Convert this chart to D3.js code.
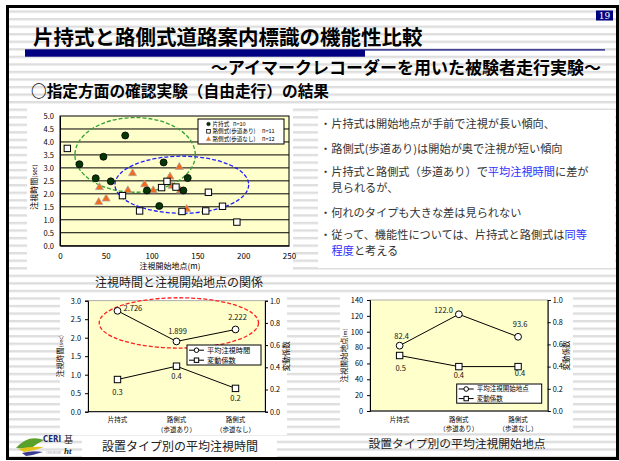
<!DOCTYPE html>
<html><head><meta charset="utf-8">
<script src="https://cdn.jsdelivr.net/npm/d3@7"></script>
<style>
body{margin:0;background:#fff;}
svg{display:block;}
text{font-family:"Noto Sans CJK JP","Noto Sans",sans-serif;}
</style>
</head><body>
<svg id="c" width="619" height="461"></svg>
<script>
// ---------------- DATA ----------------
const scatterXTicks = [0, 50, 100, 150, 200, 250];
const scatterYTicks = [0, 0.5, 1.0, 1.5, 2.0, 2.5, 3.0, 3.5, 4.0, 4.5, 5.0];
const kataX  = [21.2, 39.0, 47.4, 55.5, 71.2, 94.9, 108.4, 113.1, 134.7, 139.4];
const kataY  = [3.14, 2.60, 3.43, 2.48, 4.25, 2.13, 1.53, 3.21, 2.13, 2.61];
const ariX   = [8.0, 68.2, 86.9, 110.9, 116.8, 126.6, 133.2, 159.1, 162.0, 177.4, 193.1];
const ariY   = [3.75, 1.93, 1.34, 2.24, 2.48, 2.26, 1.32, 1.34, 2.06, 1.52, 0.91];
const nashiX = [43.1, 42.3, 50.4, 74.1, 79.2, 92.3, 101.8, 120.1, 122.3, 130.3, 131.4, 138.3];
const nashiY = [2.25, 1.68, 1.81, 2.13, 2.79, 2.36, 2.13, 2.66, 2.30, 3.03, 2.12, 1.41];
const seriesNames = ["片持式", "路側式(歩道あり)", "路側式(歩道なし)"];
const seriesN = ["n=10", "n=11", "n=12"];
// annotation ellipses (data units: cx, cy, rx, ry)
const groupEllipses = [[82, 3.5, 65.7, 1.44], [133, 2.35, 73, 1.1]];

const categories = [["片持式"], ["路側式", "（歩道あり）"], ["路側式", "（歩道なし）"]];
const meanTime = [2.726, 1.899, 2.222];
const meanTimeLabels = ["2.726", "1.899", "2.222"];
const cvTime = [0.29, 0.41, 0.21];
const cvTimeLabels = ["0.3", "0.4", "0.2"];
const meanStart = [82.4, 122.0, 93.6];
const meanStartLabels = ["82.4", "122.0", "93.6"];
const cvStart = [0.5, 0.4, 0.4];
const cvStartLabels = ["0.5", "0.4", "0.4"];
const timeTicks = [0, 0.5, 1.0, 1.5, 2.0, 2.5, 3.0];
const startTicks = [0, 20, 40, 60, 80, 100, 120, 140];
const cvTicks = [0, 0.2, 0.4, 0.6, 0.8, 1.0];
// annotation ellipse on time chart (category index, value, rx index, ry value)
const timeEllipse = [1.04, 2.40, 1.35, 0.68];

// ---------------- DRAW ----------------
const svg = d3.select("#c");
const defs = svg.append("defs");
const pat = defs.append("pattern").attr("id", "stripes").attr("patternUnits", "userSpaceOnUse")
  .attr("x", 0).attr("y", 10.4).attr("width", 10).attr("height", 7.55);
pat.append("rect").attr("width", 10).attr("height", 7.55).attr("fill", "#fff");
pat.append("rect").attr("width", 10).attr("height", 2.4).attr("fill", "#dedede");

svg.append("rect").attr("width", 619).attr("height", 461).attr("fill", "#fff");
svg.append("rect").attr("x", 7.5).attr("y", 6.5).attr("width", 610).attr("height", 452)
  .attr("fill", "url(#stripes)");

// header
svg.append("rect").attr("x", 596).attr("y", 10.5).attr("width", 17).attr("height", 10).attr("fill", "#000080");
svg.append("text").attr("x", 604.5).attr("y", 19).attr("text-anchor", "middle")
  .attr("fill", "#fff").style("font-family", "'DejaVu Serif','Liberation Serif',serif").style("font-size", "9px").text("19");
svg.append("text").attr("x", 33).attr("y", 44.5).attr("fill", "#000")
  .style("font-size", "20.5px").style("font-weight", "bold").text("片持式と路側式道路案内標識の機能性比較");
svg.append("rect").attr("x", 25).attr("y", 49.3).attr("width", 340).attr("height", 7.4).attr("fill", "#000080");
svg.append("rect").attr("x", 365).attr("y", 49.3).attr("width", 240).attr("height", 1.2).attr("fill", "#000080");
svg.append("text").attr("x", 601).attr("y", 74).attr("text-anchor", "end").attr("fill", "#000")
  .style("font-size", "17px").style("font-weight", "bold").text("～アイマークレコーダーを用いた被験者走行実験～");
svg.append("text").attr("x", 31).attr("y", 97).attr("fill", "#000")
  .style("font-size", "15.7px").style("font-weight", "bold").text("○指定方面の確認実験（自由走行）の結果");

// white panels
[[27, 108, 266, 165], [318, 110, 297, 158], [60, 293, 227, 142], [340, 293, 233, 140]].forEach(r => {
  svg.append("rect").attr("x", r[0]).attr("y", r[1]).attr("width", r[2]).attr("height", r[3]).attr("fill", "#fff");
});

// ---------- scatter ----------
const sx = d3.scaleLinear().domain([0, 250]).range([60, 289]);
const sy = d3.scaleLinear().domain([0, 5]).range([245.7, 116]);
const sg = svg.append("g");
sg.append("rect").attr("x", sx(0)).attr("y", sy(5)).attr("width", sx(250) - sx(0)).attr("height", sy(0) - sy(5))
  .attr("fill", "#FFFFCC").attr("stroke", "#000").attr("stroke-width", 1);
sg.selectAll("line.g").data(scatterYTicks.filter(d => d > 0 && d < 5)).join("line")
  .attr("x1", sx(0)).attr("x2", sx(250)).attr("y1", d => sy(d)).attr("y2", d => sy(d))
  .attr("stroke", "#000").attr("stroke-width", 1);
sg.append("g").attr("transform", `translate(0,${sy(0)})`)
  .call(d3.axisBottom(sx).tickValues(scatterXTicks).tickSize(0).tickPadding(8).tickFormat(d3.format("d")))
  .call(g => { g.select(".domain").attr("stroke", "#000"); g.selectAll("text").style("font-size", "8px").attr("fill", "#000"); });
sg.append("g").attr("transform", `translate(${sx(0)},0)`)
  .call(d3.axisLeft(sy).tickValues(scatterYTicks).tickSize(0).tickPadding(6).tickFormat(d3.format(".1f")))
  .call(g => { g.select(".domain").attr("stroke", "#000"); g.selectAll("text").style("font-size", "7.5px").attr("fill", "#000"); });
sg.append("text").attr("x", 170).attr("y", 269).attr("text-anchor", "middle").style("font-size", "8px").text("注視開始地点(m)");
const yt = sg.append("text").attr("transform", "translate(37,187) rotate(-90)").attr("text-anchor", "middle").style("font-size", "8px");
yt.append("tspan").text("注視時間");
yt.append("tspan").style("font-size", "6px").text("(sec)");

const ellColors = ["#33A033", "#1F1FFF"];
groupEllipses.forEach((e, i) => {
  sg.append("ellipse").attr("cx", sx(e[0])).attr("cy", sy(e[1]))
    .attr("rx", sx(e[2]) - sx(0)).attr("ry", sy(0) - sy(e[3]))
    .attr("fill", "none").attr("stroke", ellColors[i]).attr("stroke-width", 1.3).attr("stroke-dasharray", "4,2");
});

const kata = kataX.map((x, i) => [x, kataY[i]]);
const ari = ariX.map((x, i) => [x, ariY[i]]);
const nashi = nashiX.map((x, i) => [x, nashiY[i]]);
const tri = d3.symbol().type(d3.symbolTriangle).size(28);
sg.selectAll("path.t").data(nashi).join("path").attr("class", "t")
  .attr("transform", d => `translate(${sx(d[0])},${sy(d[1])})`).attr("d", tri)
  .attr("fill", "#F26B1D").attr("stroke", "#A8A8A8").attr("stroke-width", 0.7);
sg.selectAll("rect.s").data(ari).join("rect").attr("class", "s")
  .attr("x", d => sx(d[0]) - 3.2).attr("y", d => sy(d[1]) - 3.2).attr("width", 6.4).attr("height", 6.4)
  .attr("fill", "#fff").attr("stroke", "#000").attr("stroke-width", 1);
sg.selectAll("circle.k").data(kata).join("circle").attr("class", "k")
  .attr("cx", d => sx(d[0])).attr("cy", d => sy(d[1])).attr("r", 3.5)
  .attr("fill", "#063806").attr("stroke", "#000").attr("stroke-width", 0.8);

// scatter legend
const lg = sg.append("g");
lg.append("rect").attr("x", 198).attr("y", 119).attr("width", 86).attr("height", 25)
  .attr("fill", "#fff").attr("stroke", "#000").attr("stroke-width", 1);
const lgY = [124, 131.3, 139.3];
const nX = [233, 262, 262];
seriesNames.forEach((name, i) => {
  const y = lgY[i];
  if (i === 0) lg.append("circle").attr("cx", 208.5).attr("cy", y).attr("r", 1.8).attr("fill", "#063806").attr("stroke", "#000").attr("stroke-width", 0.5);
  if (i === 1) lg.append("rect").attr("x", 206.7).attr("y", y - 1.8).attr("width", 3.6).attr("height", 3.6).attr("fill", "#fff").attr("stroke", "#000").attr("stroke-width", 0.8);
  if (i === 2) lg.append("path").attr("transform", `translate(208.5,${y})`).attr("d", d3.symbol().type(d3.symbolTriangle).size(10)).attr("fill", "#F26B1D").attr("stroke", "#A8A8A8").attr("stroke-width", 0.4);
  lg.append("text").attr("x", 212.5).attr("y", y + 2).style("font-size", "5.6px").text(name);
  lg.append("text").attr("x", nX[i]).attr("y", y + 2).style("font-size", "5.6px").text(seriesN[i]);
});
svg.append("text").attr("x", 179).attr("y", 287).attr("text-anchor", "middle").style("font-size", "12px").attr("fill", "#222").text("注視時間と注視開始地点の関係");

// ---------- bullets ----------
const bullets = [
  {y: 128, lines: [[["・片持式は開始地点が手前で注視が長い傾向、", 0]]]},
  {y: 152.5, lines: [[["・路側式(歩道あり)は開始が奥で注視が短い傾向", 0]]]},
  {y: 176, lines: [[["・片持式と路側式（歩道あり）で", 0], ["平均注視時間", 1], ["に差が", 0]], [["見られるが、", 0]]]},
  {y: 216.5, lines: [[["・何れのタイプも大きな差は見られない", 0]]]},
  {y: 239, lines: [[["・従って、機能性については、片持式と路側式は", 0], ["同等", 1]], [["程度", 1], ["と考える", 0]]]}
];
bullets.forEach(b => {
  b.lines.forEach((ln, li) => {
    const t = svg.append("text").attr("x", li ? 331.5 : 320).attr("y", b.y + li * 16.4).style("font-size", "11.2px");
    ln.forEach(p => t.append("tspan").attr("fill", p[1] ? "#2F2FFF" : "#333").text(p[0]));
  });
});

// ---------- line charts ----------
function lineChart(o) {
  const g = svg.append("g");
  const x = d3.scaleBand().domain(d3.range(categories.length)).range([o.x0, o.x1]);
  const xc = i => x(i) + x.bandwidth() / 2;
  const yl = d3.scaleLinear().domain([0, o.lmax]).range([o.y1, o.y0]);
  const yr = d3.scaleLinear().domain([0, 1]).range([o.y1, o.y0]);
  g.append("rect").attr("x", o.x0).attr("y", o.y0).attr("width", o.x1 - o.x0).attr("height", o.y1 - o.y0)
    .attr("fill", "#FFFFCC").attr("stroke", "#9a9a9a").attr("stroke-width", 0.8);
  g.append("g").attr("transform", `translate(${o.x0},0)`)
    .call(d3.axisLeft(yl).tickValues(o.lticks).tickSize(3).tickPadding(4).tickFormat(o.lfmt))
    .call(a => { a.select(".domain").attr("stroke", "#000"); a.selectAll("line").attr("stroke", "#000"); a.selectAll("text").style("font-size", "7.3px").attr("fill", "#000"); });
  g.append("g").attr("transform", `translate(${o.x1},0)`)
    .call(d3.axisRight(yr).tickValues(cvTicks).tickSize(3).tickPadding(2).tickFormat(d3.format(".1f")))
    .call(a => { a.select(".domain").attr("stroke", "#000"); a.selectAll("line").attr("stroke", "#000"); a.selectAll("text").style("font-size", "7.3px").attr("fill", "#000"); });
  g.append("line").attr("x1", o.x0).attr("x2", o.x1).attr("y1", o.y1).attr("y2", o.y1).attr("stroke", "#000");
  categories.forEach((c, i) => {
    c.forEach((s, j) => g.append("text").attr("x", xc(i)).attr("y", o.y1 + 10.5 + j * 9.6).attr("text-anchor", "middle").style("font-size", "6.5px").text(s));
  });
  const lt = g.append("text").attr("transform", `translate(${o.ltx},${(o.y0 + o.y1) / 2}) rotate(-90)`).attr("text-anchor", "middle").style("font-size", "7.5px");
  lt.append("tspan").text(o.ltitle);
  lt.append("tspan").style("font-size", "5.5px").text(o.lunit);
  g.append("text").attr("transform", `translate(${o.rtx},${(o.y0 + o.y1) / 2}) rotate(-90)`).attr("text-anchor", "middle").style("font-size", "7.5px").text("変動係数");
  if (o.ell) {
    g.append("ellipse").attr("cx", xc(0) + o.ell[0] * (xc(1) - xc(0))).attr("cy", yl(o.ell[1]))
      .attr("rx", o.ell[2] * (xc(1) - xc(0))).attr("ry", yl(0) - yl(o.ell[3]))
      .attr("fill", "none").attr("stroke", "#FF2020").attr("stroke-width", 1.3).attr("stroke-dasharray", "4,2");
  }
  const line = d3.line().x((d, i) => xc(i));
  g.append("path").attr("d", line.y(d => yl(d))(o.mean)).attr("fill", "none").attr("stroke", "#000").attr("stroke-width", 1);
  g.append("path").attr("d", line.y(d => yr(d))(o.cv)).attr("fill", "none").attr("stroke", "#000").attr("stroke-width", 1);
  o.mean.forEach((v, i) => g.append("circle").attr("cx", xc(i)).attr("cy", yl(v)).attr("r", 3.4).attr("fill", "#fff").attr("stroke", "#000").attr("stroke-width", 1));
  o.cv.forEach((v, i) => g.append("rect").attr("x", xc(i) - 3.2).attr("y", yr(v) - 3.2).attr("width", 6.4).attr("height", 6.4).attr("fill", "#fff").attr("stroke", "#000").attr("stroke-width", 1));
  o.meanLabels.forEach((s, i) => {
    const off = o.meanOff[i];
    g.append("text").attr("x", xc(i) + off[0]).attr("y", yl(o.mean[i]) + off[1]).attr("text-anchor", off[2]).style("font-size", "7.5px").attr("fill", "#111").text(s);
  });
  o.cvLabels.forEach((s, i) => {
    const off = o.cvOff[i];
    g.append("text").attr("x", xc(i) + off[0]).attr("y", yr(o.cv[i]) + off[1]).attr("text-anchor", "middle").style("font-size", "7.5px").attr("fill", "#111").text(s);
  });
  // legend
  const L = o.leg;
  g.append("rect").attr("x", L[0]).attr("y", L[1]).attr("width", L[2]).attr("height", L[3]).attr("fill", "#fff").attr("stroke", "#000").attr("stroke-width", 1);
  const rows = [L[1] + L[3] * 0.26, L[1] + L[3] * 0.76];
  o.legNames.forEach((n, i) => {
    const yy = rows[i];
    g.append("line").attr("x1", L[0] + 2).attr("x2", L[0] + 17).attr("y1", yy).attr("y2", yy).attr("stroke", "#000");
    if (i === 0) g.append("circle").attr("cx", L[0] + 9.5).attr("cy", yy).attr("r", 2.3).attr("fill", "#fff").attr("stroke", "#000");
    else g.append("rect").attr("x", L[0] + 7.3).attr("y", yy - 2.2).attr("width", 4.4).attr("height", 4.4).attr("fill", "#fff").attr("stroke", "#000");
    g.append("text").attr("x", L[0] + 20).attr("y", yy + 2.3).style("font-size", o.legFont).text(n);
  });
}

lineChart({
  x0: 88, x1: 265, y0: 300.7, y1: 411.7, lmax: 3, lticks: timeTicks, lfmt: d3.format(".1f"),
  ltx: 63, rtx: 289, ltitle: "注視時間", lunit: "(sec)",
  mean: meanTime, cv: cvTime, meanLabels: meanTimeLabels, cvLabels: cvTimeLabels,
  meanOff: [[6, 0, "start"], [1, -7, "middle"], [2, -9, "middle"]],
  cvOff: [[0, 15, 0], [0, 13, 0], [0, 13, 0]],
  ell: timeEllipse,
  leg: [187, 345, 74, 20], legNames: ["平均注視時間", "変動係数"], legFont: "7.2px"
});
lineChart({
  x0: 370, x1: 547.7, y0: 300, y1: 411, lmax: 140, lticks: startTicks, lfmt: d3.format("d"),
  ltx: 347, rtx: 569, ltitle: "注視開始地点", lunit: "(m)",
  mean: meanStart, cv: cvStart, meanLabels: meanStartLabels, cvLabels: cvStartLabels,
  meanOff: [[2, -7, "middle"], [-6, -1, "end"], [2, -10, "middle"]],
  cvOff: [[1, 15, 0], [0, 11.5, 0], [2, 9.5, 0]],
  leg: [456.7, 384, 85, 19.2], legNames: ["平均注視開始地点", "変動係数"], legFont: "6.5px"
});

// footer: logo + captions
const lgo = svg.append("g");
lgo.append("path").attr("d", "M16,448 Q28,434 44,440 Q36,444 30,449 Z").attr("fill", "#5aa02c");
lgo.append("path").attr("d", "M18,449 Q30,446 44,447 Q34,451 24,452 Z").attr("fill", "#e3c21a");
lgo.append("path").attr("d", "M22,453 Q32,450 43,452 Q34,455 26,456 Z").attr("fill", "#3b3b8f");
lgo.append("text").attr("x", 43).attr("y", 442).attr("textLength", 18).attr("lengthAdjust", "spacingAndGlyphs")
  .style("font-size", "9.5px").style("font-weight", "bold")
  .style("font-family", "'Liberation Sans Narrow','DejaVu Sans Condensed',sans-serif").attr("fill", "#1a2a6e").text("CERI");
lgo.append("text").attr("x", 46).attr("y", 454).style("font-size", "3px").attr("fill", "#999").text("CEAI ROAD");
svg.append("text").attr("x", 64).attr("y", 443).style("font-size", "9px").attr("fill", "#222").text("基");
svg.append("text").attr("x", 64).attr("y", 454).style("font-size", "9px").style("font-weight", "bold").style("font-style", "italic")
  .style("font-family", "'Liberation Serif',serif").attr("fill", "#222").text("ht");
svg.append("rect").attr("x", 82).attr("y", 436).attr("width", 195).attr("height", 22).attr("fill", "#fff");
svg.append("text").attr("x", 180).attr("y", 450.5).attr("text-anchor", "middle").style("font-size", "12px").attr("fill", "#222").text("設置タイプ別の平均注視時間");
svg.append("text").attr("x", 457).attr("y", 448).attr("text-anchor", "middle").style("font-size", "11.8px").attr("fill", "#222").text("設置タイプ別の平均注視開始地点");

// frame
svg.append("rect").attr("x", 7.5).attr("y", 6.5).attr("width", 610).attr("height", 452)
  .attr("fill", "none").attr("stroke", "#000").attr("stroke-width", 3);
</script>
</body></html>
